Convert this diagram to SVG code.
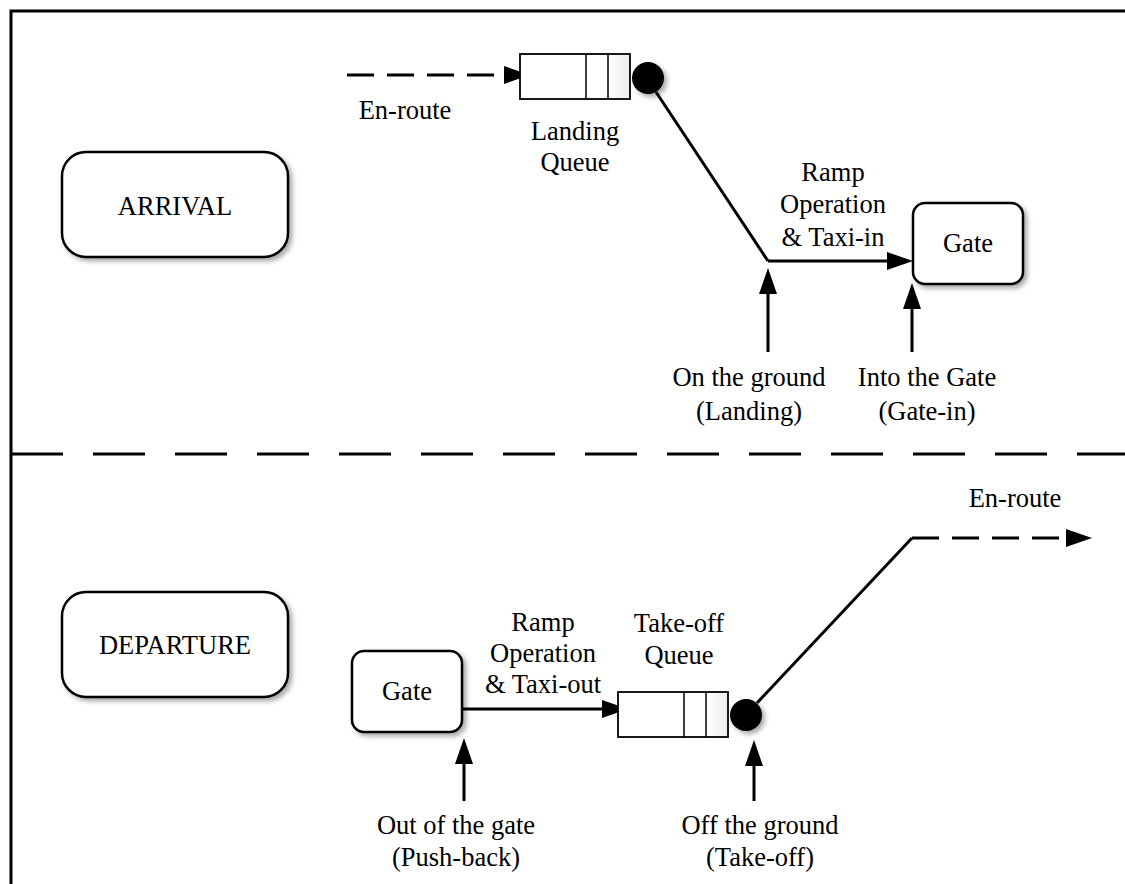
<svg xmlns="http://www.w3.org/2000/svg" width="1125" height="884" viewBox="0 0 1125 884">
<defs>
<style>
text{font-family:"Liberation Serif","Times New Roman",serif;font-size:26.5px;fill:#000;text-anchor:middle}
.box{fill:#fff;stroke:#000;stroke-width:2.5}
.q{fill:url(#qg);stroke:#000;stroke-width:1.8}
.qd{stroke:#000;stroke-width:1.5}
.ln{fill:none;stroke:#000;stroke-width:3}
.dash{fill:none;stroke:#000;stroke-width:3;stroke-dasharray:27 13}
.arr{marker-end:url(#ah)}
</style>
<marker id="ah" markerUnits="userSpaceOnUse" markerWidth="26" markerHeight="18" refX="4" refY="9" orient="auto" viewBox="0 0 26 18">
<path d="M0,0 L26,9 L0,18 Z" fill="#000"/>
</marker>
<filter id="sh" x="-20%" y="-20%" width="150%" height="150%">
<feDropShadow dx="3" dy="3" stdDeviation="2.5" flood-color="#000" flood-opacity="0.35"/>
</filter>
<linearGradient id="qg" x1="0" y1="0" x2="1" y2="0">
<stop offset="0" stop-color="#fff"/>
<stop offset="0.8" stop-color="#fff"/>
<stop offset="1" stop-color="#ececec"/>
</linearGradient>
</defs>
<rect width="1125" height="884" fill="#fff"/>
<path d="M11,884 V11 H1125" fill="none" stroke="#000" stroke-width="3"/>
<line x1="11" y1="454" x2="1125" y2="454" stroke="#000" stroke-width="3" stroke-dasharray="52 30"/>

<g id="connectors">
<line class="dash arr" x1="347" y1="75" x2="508" y2="75"/>
<polyline class="ln" points="656,92 768,261"/>
<line class="ln arr" x1="768" y1="261" x2="891" y2="261"/>
<line class="ln arr" x1="768" y1="352" x2="768" y2="290"/>
<line class="ln arr" x1="912" y1="352" x2="912" y2="305"/>
<line class="ln arr" x1="462" y1="709" x2="606" y2="709"/>
<polyline class="ln" points="757,703 912,538"/>
<line class="dash arr" x1="912" y1="538" x2="1070" y2="538"/>
<line class="ln arr" x1="464" y1="801" x2="464" y2="760"/>
<line class="ln arr" x1="754" y1="801" x2="754" y2="762"/>
</g>

<g id="arrival">
<rect class="box" x="62" y="152" width="226" height="105" rx="24" filter="url(#sh)"/>
<text x="175" y="215">ARRIVAL</text>
</g>
<g id="departure">
<rect class="box" x="62" y="592" width="226" height="105" rx="24" filter="url(#sh)"/>
<text x="175" y="654">DEPARTURE</text>
</g>

<g id="landing-queue">
<rect class="q" x="520" y="54" width="110" height="45"/>
<line class="qd" x1="586" y1="54" x2="586" y2="99"/>
<line class="qd" x1="608" y1="54" x2="608" y2="99"/>
<circle cx="648" cy="78" r="16" fill="#000" filter="url(#sh)"/>
</g>
<g id="gate-arrival">
<rect class="box" x="913" y="203" width="110" height="81" rx="12" filter="url(#sh)"/>
<text x="968" y="252">Gate</text>
</g>
<g id="gate-departure">
<rect class="box" x="352" y="651" width="110" height="81" rx="12" filter="url(#sh)"/>
<text x="407" y="700">Gate</text>
</g>
<g id="takeoff-queue">
<rect class="q" x="618" y="692" width="110" height="45"/>
<line class="qd" x1="684" y1="692" x2="684" y2="737"/>
<line class="qd" x1="706" y1="692" x2="706" y2="737"/>
<circle cx="746" cy="715" r="16" fill="#000" filter="url(#sh)"/>
</g>

<g id="labels">
<text x="405" y="119">En-route</text>
<text x="575" y="140">Landing</text>
<text x="575" y="171">Queue</text>
<text x="833" y="181">Ramp</text>
<text x="833" y="213">Operation</text>
<text x="833" y="246">&amp; Taxi-in</text>
<text x="749" y="386">On the ground</text>
<text x="749" y="420">(Landing)</text>
<text x="927" y="386">Into the Gate</text>
<text x="927" y="420">(Gate-in)</text>
<text x="1015" y="507">En-route</text>
<text x="543" y="631">Ramp</text>
<text x="543" y="662">Operation</text>
<text x="543" y="693">&amp; Taxi-out</text>
<text x="679" y="632">Take-off</text>
<text x="679" y="664">Queue</text>
<text x="456" y="834">Out of the gate</text>
<text x="456" y="866">(Push-back)</text>
<text x="760" y="834">Off the ground</text>
<text x="760" y="866">(Take-off)</text>
</g>
</svg>
